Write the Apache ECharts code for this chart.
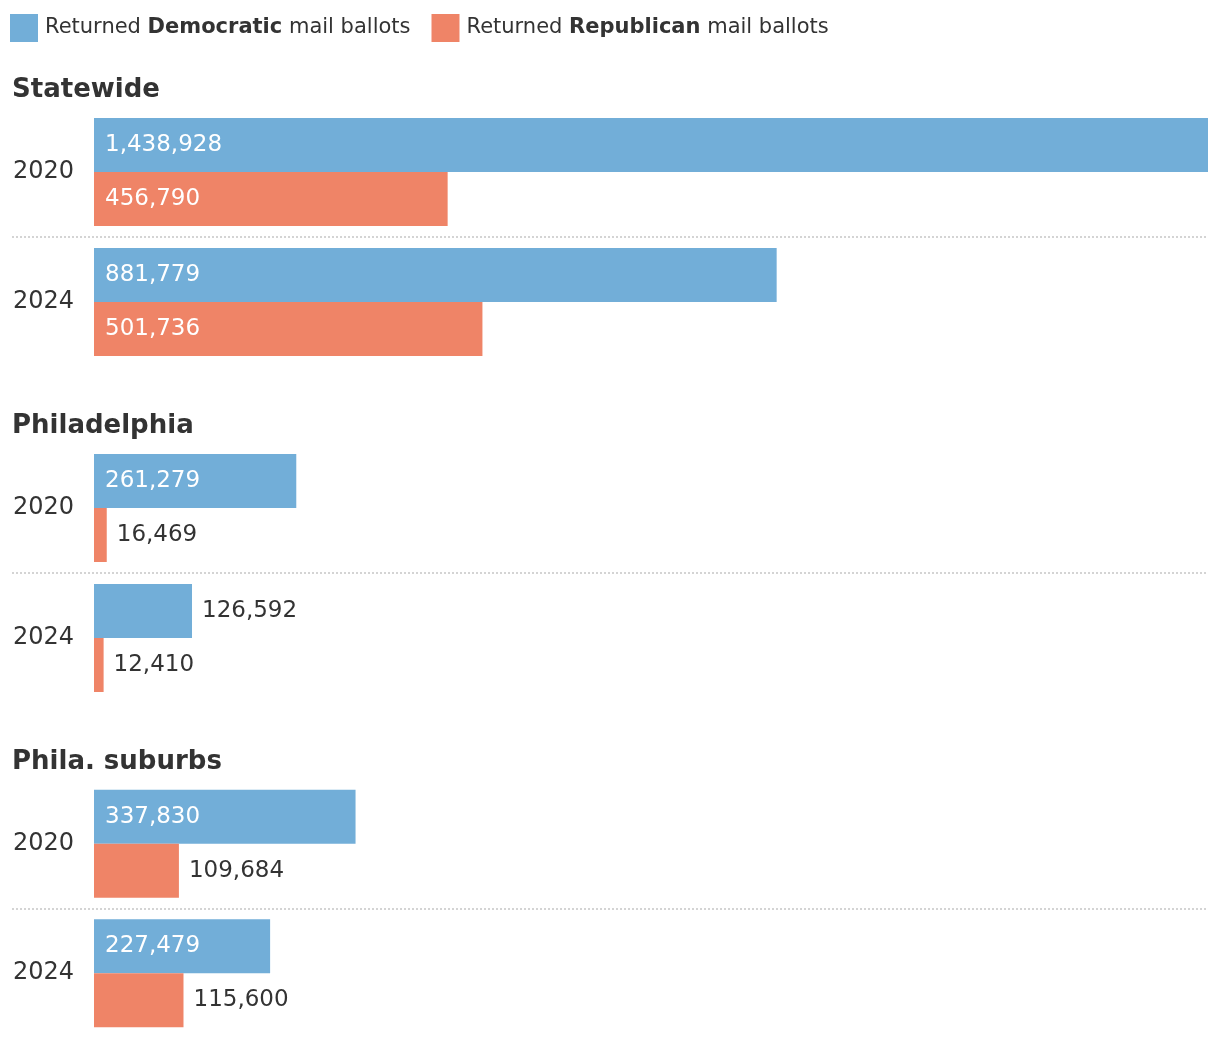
<!DOCTYPE html>
<html>
<head>
<meta charset="utf-8">
<script src="https://cdn.jsdelivr.net/npm/echarts@6/dist/echarts.min.js"></script>
<style>
html,body{margin:0;padding:0;background:#fff;}
#chart{width:1220px;height:1038px;}
</style>
</head>
<body>
<div id="chart"></div>
<script>
const regions = ['Statewide', 'Philadelphia', 'Phila. suburbs'];
const years = ['2020', '2024'];
const demStatewide = [1438928, 881779];
const repStatewide = [456790, 501736];
const demPhiladelphia = [261279, 126592];
const repPhiladelphia = [16469, 12410];
const demSuburbs = [337830, 227479];
const repSuburbs = [109684, 115600];

const demByRegion = [demStatewide, demPhiladelphia, demSuburbs];
const repByRegion = [repStatewide, repPhiladelphia, repSuburbs];

const BLUE = '#72aed8';
const ORANGE = '#ef8467';
const TEXT = '#333333';
const FONT = 'DejaVu Sans';

const xMax = Math.max(...demStatewide, ...repStatewide);
const xMin = -xMax * 82 / 1114;

const gridTop0 = 107, gridStep = 336, gridH = 260;

function labeled(vals) {
  return vals.map(v => {
    const inside = v >= 150000;
    return {
      value: v,
      label: inside
        ? { show: true, position: 'insideLeft', distance: 11, color: '#ffffff' }
        : { show: true, position: 'right', distance: 10, color: TEXT }
    };
  });
}

const grids = [], xAxes = [], yAxes = [], series = [], titles = [];
regions.forEach((r, i) => {
  const top = gridTop0 + i * gridStep;
  grids.push({ left: 12, right: 12, top: top, height: gridH, containLabel: false });
  titles.push({
    text: r, left: 12, top: top - 30, padding: 0,
    textStyle: { fontFamily: FONT, fontSize: 26, fontWeight: 'bold', color: TEXT }
  });
  xAxes.push({
    type: 'value', gridIndex: i, min: xMin, max: xMax, show: false,
    splitLine: { show: false }
  });
  yAxes.push({
    type: 'category', gridIndex: i, data: years, inverse: true,
    axisLine: { show: false, onZero: false },
    axisTick: { show: false },
    axisLabel: { inside: true, margin: 1, fontFamily: FONT, fontSize: 24, color: TEXT, padding: [0, 0, 3, 0] },
    splitLine: {
      show: true,
      lineStyle: { color: ['rgba(0,0,0,0)', '#d4d4d4', 'rgba(0,0,0,0)'], type: [2, 2], width: 2 }
    }
  });
  const labelBase = { fontFamily: FONT, fontSize: 23, formatter: p => p.value.toLocaleString('en-US') };
  series.push({
    name: 'Democratic', type: 'bar', xAxisIndex: i, yAxisIndex: i,
    barWidth: 54, barGap: '0%', itemStyle: { color: BLUE },
    label: labelBase, silent: true,
    data: labeled(demByRegion[i])
  });
  series.push({
    name: 'Republican', type: 'bar', xAxisIndex: i, yAxisIndex: i,
    barWidth: 54, barGap: '0%', itemStyle: { color: ORANGE },
    label: labelBase, silent: true,
    data: labeled(repByRegion[i])
  });
});

const chart = echarts.init(document.getElementById('chart'), null, { renderer: 'canvas' });
chart.setOption({
  animation: false,
  backgroundColor: '#ffffff',
  title: titles,
  legend: {
    left: 10, top: 14, padding: 0,
    icon: 'rect', itemWidth: 28, itemHeight: 28, itemGap: 21,
    selectedMode: false,
    data: ['Democratic', 'Republican'],
    formatter: n => 'Returned {b|' + n + '} mail ballots',
    textStyle: {
      fontFamily: FONT, fontSize: 21, color: TEXT, padding: [0, 0, 0, 2],
      rich: { b: { fontFamily: FONT, fontSize: 21, fontWeight: 'bold', color: TEXT } }
    }
  },
  grid: grids,
  xAxis: xAxes,
  yAxis: yAxes,
  series: series
});
</script>
</body>
</html>
